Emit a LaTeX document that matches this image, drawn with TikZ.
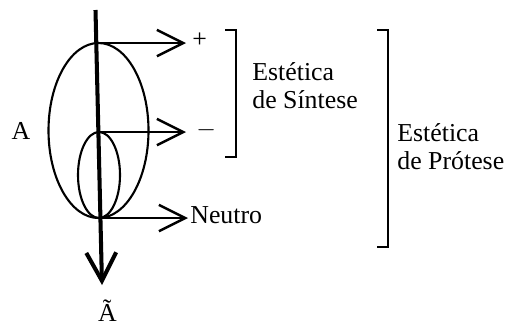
\documentclass[tikz,border=0pt]{standalone}
\usepackage{fontspec}
\setmainfont{Liberation Serif}
\usetikzlibrary{arrows.meta}
\tikzset{
  lbl/.style={font=\fontsize{14.7}{16}\selectfont, inner sep=0pt},
  thinarrow/.style={line width=1.1pt, -{Straight Barb[length=15pt, width=15pt, line width=1.4pt]}},
  axisarrow/.style={line width=2.3pt, -{Straight Barb[length=16pt, width=17pt, line width=2.3pt]}},
  brk/.style={line width=1.1pt}
}
\begin{document}
\begin{tikzpicture}[x=0.02cm, y=-0.02cm]
		\useasboundingbox (0,0) rectangle (509,325);

		% ellipses
		\draw[line width=1.2pt] (98.5,130.5) ellipse [x radius=50, y radius=87.5];
		\draw[line width=1.2pt] (99,175) ellipse [x radius=21, y radius=43];

		% points on the axis and arrow ends
		\coordinate (top) at (96.3,43);
		\coordinate (mid) at (98.4,132);
		\coordinate (bot) at (100.4,218);
		\coordinate (axtop) at (95.5,10);
		\coordinate (axbot) at (102,285);
		\coordinate (toptip) at (186,43);
		\coordinate (midtip) at (186,132);
		\coordinate (bottip) at (188,218);

		\node[lbl] (a) at (21,130.5) {A};
		\node[lbl] (atil) at (107.5,311) {Ã};
		\node[lbl, anchor=west] (plus) at (192,40.5) {+};
		\node[lbl, anchor=west] (minus) at (196,130.5) {$-$};
		\node[lbl, anchor=west] (neutro) at (190,215.5) {Neutro};

		\draw[thinarrow] (top) -- (toptip);
		\draw[thinarrow] (mid) -- (midtip);
		\draw[thinarrow] (bot) -- (bottip);

		\draw[axisarrow] (axtop) -- (axbot);

		% brackets
		\draw[brk] (225,30) -- (236,30) -- (236,157) -- (225,157);
		\draw[brk] (377,30) -- (388,30) -- (388,247) -- (377,247);

		\node[lbl, anchor=west, align=left] (sintese) at (252,86) {Estética\\de Síntese};
		\node[lbl, anchor=west, align=left] (protese) at (397,147) {Estética\\de Prótese};
\end{tikzpicture}
\end{document}
